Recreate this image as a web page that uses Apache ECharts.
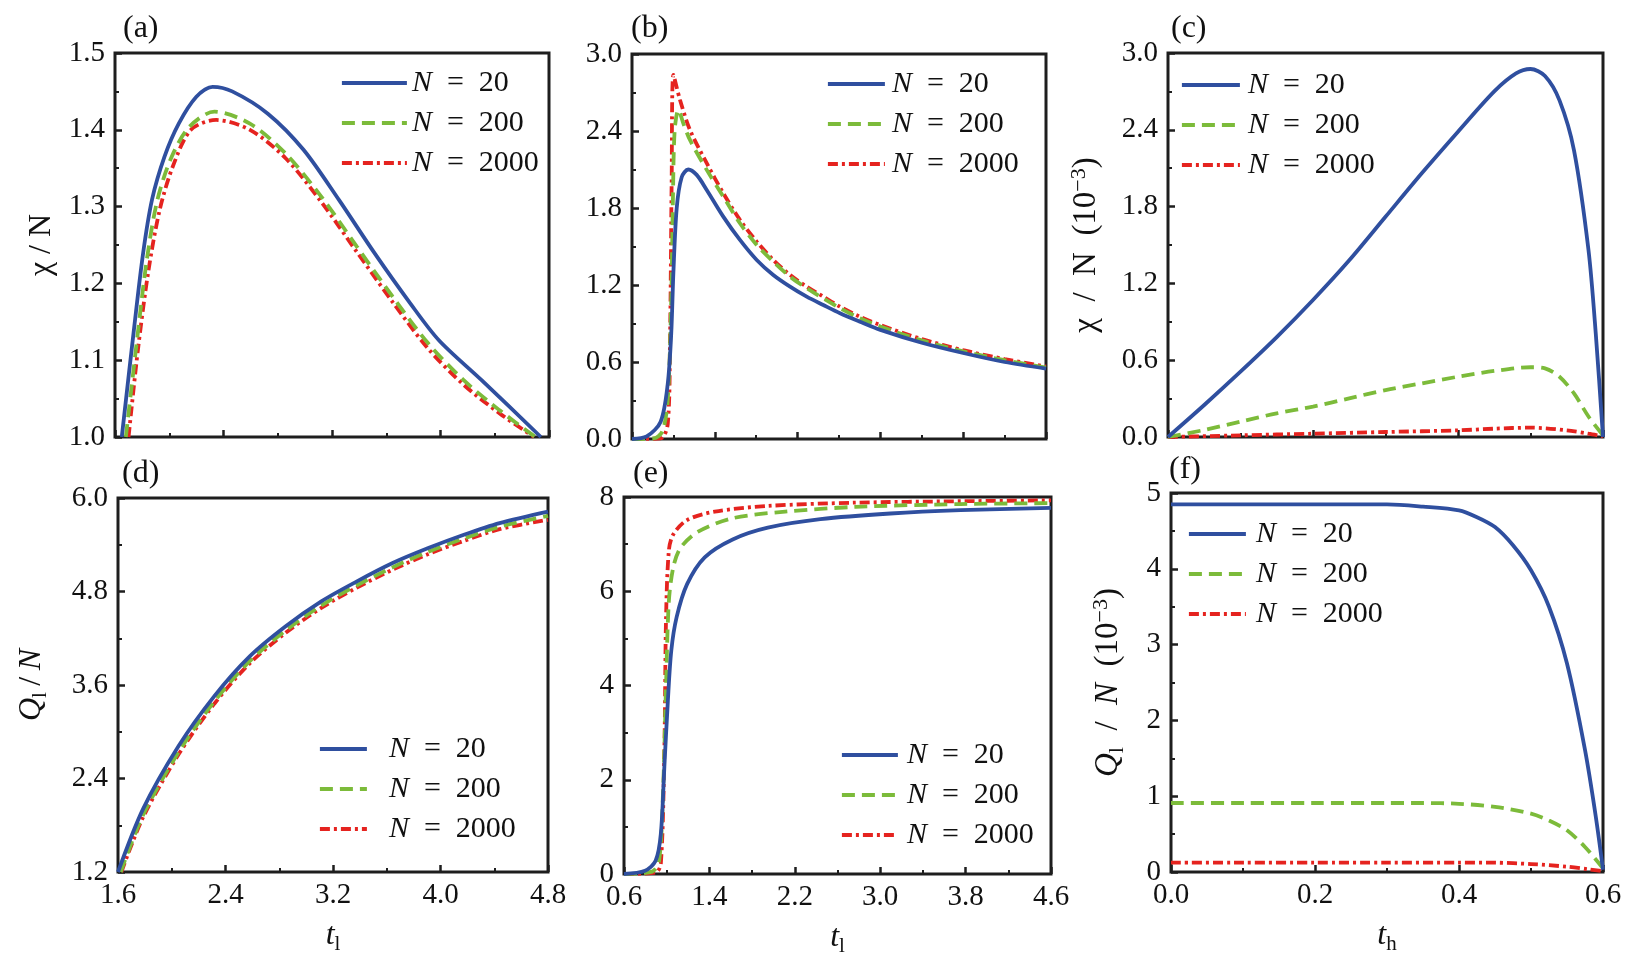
<!DOCTYPE html>
<html>
<head>
<meta charset="utf-8">
<script src="https://cdn.jsdelivr.net/npm/echarts@6/dist/echarts.min.js"></script>
<style>
html,body{margin:0;padding:0;background:#fff;}
#main{width:1642px;height:964px;}
</style>
</head>
<body>
<div id="main"></div>
<script>
// ---------- Panel (a): chi/N vs t_l ----------
const aT20   = [1.65, 1.742, 1.807, 1.873, 1.965, 2.07, 2.20, 2.32, 2.464, 2.727, 2.99, 3.25, 3.515, 3.777, 3.988, 4.303, 4.74];
const aV20   = [1.0, 1.1436, 1.239, 1.309, 1.365, 1.408, 1.443, 1.456, 1.450, 1.421, 1.374, 1.309, 1.239, 1.174, 1.126, 1.074, 1.0];
const aT200  = [1.68, 1.768, 1.834, 1.913, 2.018, 2.149, 2.333, 2.595, 2.858, 3.121, 3.383, 3.646, 3.909, 4.171, 4.434, 4.70];
const aV200  = [1.0, 1.135, 1.230, 1.309, 1.365, 1.404, 1.4236, 1.408, 1.369, 1.313, 1.248, 1.183, 1.122, 1.074, 1.035, 1.0];
const aT2000 = [1.70, 1.77, 1.847, 1.93, 2.03, 2.16, 2.346, 2.595, 2.858, 3.121, 3.383, 3.646, 3.909, 4.171, 4.434, 4.69];
const aV2000 = [1.0, 1.115, 1.217, 1.296, 1.354, 1.40, 1.4128, 1.40, 1.363, 1.306, 1.241, 1.176, 1.115, 1.068, 1.031, 1.0];

// ---------- Panel (b): chi/N vs t_l ----------
const bT20   = [0.6, 0.742, 0.877, 0.945, 0.979, 1.0, 1.032, 1.08, 1.144, 1.225, 1.322, 1.482, 1.643, 1.805, 1.965, 2.127, 2.288, 2.448, 2.61, 2.803, 3.0, 3.4, 3.8, 4.2, 4.6];
const bV20   = [0.0, 0.02, 0.135, 0.427, 0.82, 1.30, 1.80, 2.04, 2.10, 2.058, 1.941, 1.733, 1.551, 1.395, 1.278, 1.187, 1.109, 1.044, 0.98, 0.914, 0.85, 0.75, 0.67, 0.60, 0.549];
const bT200  = [0.6, 0.81, 0.894, 0.945, 0.979, 0.996, 1.012, 1.048, 1.10, 1.16, 1.322, 1.482, 1.643, 1.805, 1.965, 2.127, 2.288, 2.61, 2.803, 3.0, 3.4, 3.8, 4.2, 4.6];
const bV200  = [0.0, 0.005, 0.06, 0.30, 1.08, 1.90, 2.40, 2.564, 2.45, 2.33, 2.097, 1.889, 1.681, 1.512, 1.382, 1.265, 1.175, 1.019, 0.941, 0.876, 0.768, 0.683, 0.614, 0.557];
const bT2000 = [0.6, 0.877, 0.945, 0.967, 0.983, 1.0, 1.064, 1.16, 1.322, 1.482, 1.643, 1.805, 1.965, 2.127, 2.288, 2.448, 2.61, 2.803, 3.0, 3.4, 3.8, 4.2, 4.6];
const bV2000 = [0.0, 0.005, 0.115, 0.746, 1.99, 2.837, 2.642, 2.408, 2.149, 1.915, 1.707, 1.538, 1.395, 1.278, 1.187, 1.109, 1.031, 0.953, 0.888, 0.779, 0.692, 0.623, 0.565];

// ---------- Panel (c): chi/N (1e-3) vs t_h ----------
const cT20   = [0.0, 0.05, 0.1, 0.15, 0.2, 0.25, 0.3, 0.35, 0.4, 0.45, 0.48, 0.5, 0.52, 0.54, 0.56, 0.58, 0.59, 0.6];
const cV20   = [0.0, 0.25, 0.51, 0.78, 1.07, 1.38, 1.72, 2.06, 2.385, 2.70, 2.84, 2.875, 2.82, 2.63, 2.24, 1.46, 0.81, 0.0];
const cT200  = [0.0, 0.05, 0.1, 0.15, 0.2, 0.25, 0.3, 0.35, 0.4, 0.45, 0.5, 0.52, 0.54, 0.56, 0.58, 0.6];
const cV200  = [0.0, 0.055, 0.12, 0.185, 0.237, 0.302, 0.367, 0.419, 0.471, 0.516, 0.545, 0.536, 0.471, 0.34, 0.16, 0.013];
const cT2000 = [0.0, 0.1, 0.2, 0.3, 0.4, 0.45, 0.5, 0.55, 0.58, 0.6];
const cV2000 = [0.0, 0.013, 0.026, 0.039, 0.052, 0.065, 0.073, 0.052, 0.026, 0.005];

// ---------- Panel (d): Q_l/N vs t_l ----------
const dT20   = [1.6, 1.786, 2.051, 2.317, 2.582, 2.848, 3.113, 3.378, 3.644, 3.909, 4.174, 4.44, 4.8];
const dV20   = [1.2, 2.007, 2.817, 3.457, 3.97, 4.354, 4.674, 4.93, 5.165, 5.357, 5.528, 5.678, 5.826];
const dT200  = [1.62, 1.786, 2.051, 2.317, 2.582, 2.848, 3.113, 3.378, 3.644, 3.909, 4.174, 4.44, 4.8];
const dV200  = [1.2, 1.93, 2.74, 3.39, 3.91, 4.30, 4.62, 4.88, 5.11, 5.31, 5.48, 5.63, 5.77];
const dT2000 = [1.625, 1.786, 2.051, 2.317, 2.582, 2.848, 3.113, 3.378, 3.644, 3.909, 4.174, 4.44, 4.8];
const dV2000 = [1.2, 1.90, 2.71, 3.36, 3.88, 4.27, 4.59, 4.85, 5.08, 5.28, 5.45, 5.60, 5.72];

// ---------- Panel (e): Q_l/N vs t_l ----------
const eT20   = [0.6, 0.797, 0.896, 0.945, 0.978, 1.011, 1.043, 1.093, 1.191, 1.356, 1.618, 1.947, 2.44, 3.096, 3.753, 4.6];
const eV20   = [0.0, 0.07, 0.28, 0.85, 2.27, 3.68, 4.74, 5.45, 6.15, 6.72, 7.10, 7.35, 7.53, 7.65, 7.72, 7.77];
const eT200  = [0.6, 0.863, 0.929, 0.968, 0.994, 1.02, 1.06, 1.126, 1.29, 1.618, 2.11, 2.768, 3.753, 4.6];
const eV200  = [0.0, 0.05, 0.28, 1.9, 4.02, 5.78, 6.49, 6.91, 7.26, 7.55, 7.69, 7.79, 7.85, 7.87];
const eT2000 = [0.6, 0.896, 0.945, 0.978, 0.994, 1.02, 1.06, 1.19, 1.45, 1.947, 2.768, 3.753, 4.6];
const eV2000 = [0.0, 0.03, 0.22, 2.62, 5.45, 6.86, 7.2, 7.51, 7.69, 7.81, 7.88, 7.91, 7.93];

// ---------- Panel (f): Q_l/N (1e-3) vs t_h ----------
const fT20   = [0.0, 0.1, 0.2, 0.3, 0.35, 0.4, 0.425, 0.45, 0.475, 0.5, 0.525, 0.55, 0.575, 0.59, 0.6];
const fV20   = [4.85, 4.85, 4.85, 4.85, 4.82, 4.77, 4.68, 4.55, 4.31, 3.98, 3.50, 2.75, 1.61, 0.73, 0.03];
const fT200  = [0.0, 0.1, 0.2, 0.3, 0.35, 0.4, 0.45, 0.5, 0.525, 0.55, 0.575, 0.6];
const fV200  = [0.91, 0.91, 0.91, 0.91, 0.91, 0.90, 0.86, 0.77, 0.68, 0.55, 0.33, 0.05];
const fT2000 = [0.0, 0.1, 0.2, 0.3, 0.4, 0.45, 0.5, 0.55, 0.58, 0.6];
const fV2000 = [0.125, 0.125, 0.125, 0.125, 0.125, 0.123, 0.105, 0.07, 0.035, 0.01];

// Legend / series names
const names = ['N20', 'N200', 'N2000'];
const nLabels = {N20: '20', N200: '200', N2000: '2000'};

// ---------- styling ----------
const FONT = "'Liberation Serif', 'DejaVu Serif', serif";
const COLORS = {N20: '#2f4f9f', N200: '#7cbb3a', N2000: '#e5231f'};
const DASH = {N20: 'solid', N200: [13, 7], N2000: [10, 4, 3, 4]};
const LW = 3.8;
const zip = (xs, ys) => xs.map((x, i) => [x, ys[i]]);

const grids = [
  {left: 115, top: 53, width: 434, height: 384},
  {left: 632, top: 54, width: 414, height: 385},
  {left: 1168, top: 53, width: 435, height: 384},
  {left: 118, top: 498, width: 430, height: 374},
  {left: 624, top: 497, width: 427, height: 377},
  {left: 1171, top: 493, width: 432, height: 379}
].map(g => Object.assign({show: true, borderColor: '#1e1e1e', borderWidth: 3, backgroundColor: 'transparent'}, g));

function richFor(size) {
  return {
    i: {fontFamily: FONT, fontStyle: 'italic', fontSize: size, color: '#111'},
    r: {fontFamily: FONT, fontSize: size, color: '#111'},
    sub: {fontFamily: FONT, fontSize: Math.round(size * 0.66), color: '#111', verticalAlign: 'bottom', padding: [Math.round(size * 0.52), 0, 0, 0]},
    sup: {fontFamily: FONT, fontSize: Math.round(size * 0.66), color: '#111', padding: [0, 0, Math.round(size * 0.45), 0]}
  };
}

function xAxisCfg(idx, min, max, interval, showLabels, digits, name) {
  return {
    type: 'value', gridIndex: idx, min: min, max: max, interval: interval,
    axisLine: {show: false},
    axisTick: {show: true, inside: true, length: 7, lineStyle: {color: '#1e1e1e', width: 2.5}},
    minorTick: {show: true, splitNumber: 2, length: 4, lineStyle: {color: '#1e1e1e', width: 2}},
    splitLine: {show: false},
    axisLabel: {show: showLabels, margin: 9, fontFamily: FONT, fontSize: 29, color: '#111',
      formatter: v => Number(v).toFixed(digits)},
    name: name || '', nameLocation: 'middle', nameGap: 45,
    nameTextStyle: {rich: richFor(32)}
  };
}
function yAxisCfg(idx, min, max, interval, digits, name, gap, size) {
  return {
    type: 'value', gridIndex: idx, min: min, max: max, interval: interval,
    axisLine: {show: false},
    axisTick: {show: true, inside: true, length: 7, lineStyle: {color: '#1e1e1e', width: 2.5}},
    minorTick: {show: true, splitNumber: 2, length: 4, lineStyle: {color: '#1e1e1e', width: 2}},
    splitLine: {show: false},
    axisLabel: {margin: 10, fontFamily: FONT, fontSize: 29, color: '#111',
      formatter: v => Number(v).toFixed(digits)},
    name: name || '', nameLocation: 'middle', nameGap: gap || 60, nameRotate: 90,
    nameTextStyle: {rich: richFor(size || 31)}
  };
}

const xAxes = [
  xAxisCfg(0, 1.6, 4.8, 0.8, false, 1),
  xAxisCfg(1, 0.6, 4.6, 0.8, false, 1),
  xAxisCfg(2, 0, 0.6, 0.2, false, 1),
  xAxisCfg(3, 1.6, 4.8, 0.8, true, 1, '{i|t}{sub|l}'),
  xAxisCfg(4, 0.6, 4.6, 0.8, true, 1, '{i|t}{sub|l}'),
  xAxisCfg(5, 0, 0.6, 0.2, true, 1, '{i|t}{sub|h}')
];
const yAxes = [
  yAxisCfg(0, 1.0, 1.5, 0.1, 1, '{r|χ / N}', 57, 32),
  yAxisCfg(1, 0, 3.0, 0.6, 1, ''),
  yAxisCfg(2, 0, 3.0, 0.6, 1, '{r|χ\u2002/\u2002N\u2002(10}{sup|−3}{r|)}', 63, 33),
  yAxisCfg(3, 1.2, 6.0, 1.2, 1, '{i|Q}{sub|l}{r|\u2009/\u2009}{i|N}', 67, 32),
  yAxisCfg(4, 0, 8, 2, 0, ''),
  yAxisCfg(5, 0, 5, 1, 0, '{i|Q}{sub|l}{r|\u2002/\u2002}{i|N}{r|\u2002(10}{sup|−3}{r|)}', 43, 33)
];

const panelData = [
  [zip(aT20, aV20), zip(aT200, aV200), zip(aT2000, aV2000)],
  [zip(bT20, bV20), zip(bT200, bV200), zip(bT2000, bV2000)],
  [zip(cT20, cV20), zip(cT200, cV200), zip(cT2000, cV2000)],
  [zip(dT20, dV20), zip(dT200, dV200), zip(dT2000, dV2000)],
  [zip(eT20, eV20), zip(eT200, eV200), zip(eT2000, eV2000)],
  [zip(fT20, fV20), zip(fT200, fV200), zip(fT2000, fV2000)]
];

const series = [];
panelData.forEach((sets, p) => {
  sets.forEach((data, k) => {
    const nm = names[k];
    series.push({
      type: 'line', name: nm, xAxisIndex: p, yAxisIndex: p,
      data: data, showSymbol: false, symbol: 'none',
      smooth: 0.3, clip: true,
      lineStyle: {color: COLORS[nm], width: LW, type: DASH[nm]},
      itemStyle: {color: COLORS[nm]},
      z: 5 - k
    });
  });
});

// legends: [left, top, itemWidth, textPadLeft]
const legendPos = [
  [340, 68, 65, 0],
  [826, 69, 57, 2],
  [1180, 70, 58, 3],
  [318, 734, 47, 17],
  [840, 740, 56, 4],
  [1187, 519, 57, 5]
];
const legends = legendPos.map(lp => ({
  data: names, orient: 'vertical', left: lp[0], top: lp[1], padding: 0,
  itemWidth: lp[2], itemHeight: 14, itemGap: 10, selectedMode: false,
  itemStyle: {opacity: 0},
  lineStyle: {width: LW, color: 'inherit', type: 'inherit'},
  formatter: nm => '{i|N}{r|\u2002=\u2002' + nLabels[nm] + '}',
  textStyle: {fontFamily: FONT, fontSize: 30, lineHeight: 30, color: '#111',
    padding: [0, 0, 0, lp[3]],
    rich: {i: {fontFamily: FONT, fontStyle: 'italic', fontSize: 30, color: '#111'},
           r: {fontFamily: FONT, fontSize: 30, color: '#111'}}}
}));

const panelLabels = [
  ['(a)', 123, 13], ['(b)', 631, 13], ['(c)', 1171, 13],
  ['(d)', 122, 458], ['(e)', 633, 458], ['(f)', 1169, 454]
];
const titles = panelLabels.map(p => ({
  text: p[0], left: p[1], top: p[2], padding: 0,
  textStyle: {fontFamily: FONT, fontSize: 32, fontWeight: 'normal', color: '#111'}
}));

const chart = echarts.init(document.getElementById('main'), null, {renderer: 'canvas'});
chart.setOption({
  animation: false,
  backgroundColor: '#fff',
  title: titles,
  grid: grids,
  xAxis: xAxes,
  yAxis: yAxes,
  legend: legends,
  series: series
});
</script>
</body>
</html>
